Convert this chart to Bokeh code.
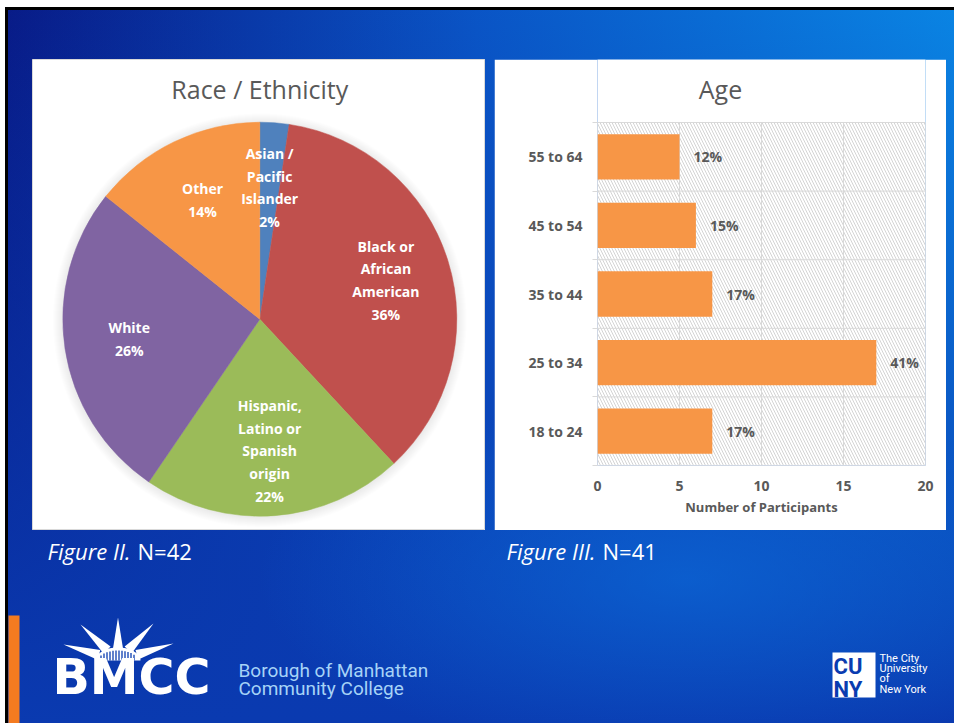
import numpy as np
from bokeh.plotting import figure
from bokeh.models import Range1d, FixedTicker, BoxAnnotation, Spacer, ColumnDataSource
from bokeh.layouts import column, row
from bokeh.core.properties import value
from bokeh.embed import file_html
from bokeh.resources import INLINE

# ---------------- data ----------------
race_names = ["Asian /\nPacific\nIslander", "Black or\nAfrican\nAmerican",
              "Hispanic,\nLatino or\nSpanish\norigin", "White", "Other"]
race_counts = [1, 15, 9, 11, 6]
race_pct = ["2%", "36%", "22%", "26%", "14%"]
race_colors = ["#4F81BD", "#C0504D", "#9BBB59", "#8064A2", "#F79646"]

age_groups = ["18 to 24", "25 to 34", "35 to 44", "45 to 54", "55 to 64"]
age_counts = [7, 17, 7, 6, 5]
age_pct = ["17%", "41%", "17%", "15%", "12%"]
x_ticks = [0, 5, 10, 15, 20]

captions = [("Figure II.", "N=42"), ("Figure III.", "N=41")]

# ---------------- styles ----------------
FONT = "Open Sans"
GRAY = "#595959"
GRID = "#d9d9d9"
BG_BLUE = "#0a3cb0"

# ---------------- pie (Race / Ethnicity) ----------------
R = 197
pie = figure(width=453, height=471, x_range=Range1d(-227.3, 225.7), y_range=Range1d(-211.3, 259.7),
             output_backend="svg", toolbar_location=None, min_border=0,
             x_axis_location=None, y_axis_location=None,
             background_fill_color="white", border_fill_color="white", outline_line_color=GRID)
pie.grid.visible = False

# soft shadow
for k in range(1, 11):
    pie.circle(x=[0], y=[-1], radius=R + k, fill_color="black", fill_alpha=0.009, line_color=None)

frac = np.array(race_counts, dtype=float) / sum(race_counts)
cum = np.concatenate([[0.0], np.cumsum(frac)])
start = np.pi / 2 - 2 * np.pi * cum[:-1]
end = np.pi / 2 - 2 * np.pi * cum[1:]
mid = (start + end) / 2
lab_r = 0.67 * R
src = ColumnDataSource(dict(start=start, end=end, color=race_colors,
                            lx=lab_r * np.cos(mid), ly=lab_r * np.sin(mid),
                            label=[n + "\n" + p for n, p in zip(race_names, race_pct)]))
pie.wedge(x=0, y=0, radius=R, start_angle="start", end_angle="end", direction="clock",
          fill_color="color", line_color="color", line_width=0.5, source=src)
pie.text(x="lx", y="ly", text="label", source=src, text_align="center", text_baseline="middle",
         text_font=value(FONT), text_font_style="bold", text_font_size="14px",
         text_color="white", text_line_height=1.2)
pie.text(x=[0], y=[230.7], text=["Race / Ethnicity"], text_align="center", text_baseline="middle",
         text_font=value(FONT), text_font_size="25px", text_color=GRAY)

# ---------------- bar (Age) ----------------
BL, BR, BT, BB = 103, 21, 63, 65      # plot-area insets inside the panel
BW, BH = 452, 471
ypos = list(range(1, len(age_groups) + 1))
bounds = [y - 0.5 for y in ypos] + [ypos[-1] + 0.5]
px_per_x = (BW - BL - BR) / (x_ticks[-1] - x_ticks[0])
px_per_y = (BH - BT - BB) / (bounds[-1] - bounds[0])
# the frame reaches the panel top so that the chart title can live inside it
bar = figure(width=BW, height=BH, x_range=Range1d(x_ticks[0], x_ticks[-1]),
             y_range=Range1d(bounds[0], bounds[-1] + BT / px_per_y),
             output_backend="svg", toolbar_location=None,
             min_border_left=BL, min_border_right=BR, min_border_top=0, min_border_bottom=BB,
             background_fill_color="white", border_fill_color="white", outline_line_color=None)
bar.outline_line_alpha = 0
bar.grid.visible = False

bar.text(x=[x_ticks[0] + (BW / 2 - BL) / px_per_x], y=[bounds[-1] + 34 / px_per_y], text=["Age"],
         text_align="center", text_baseline="middle",
         text_font=value(FONT), text_font_size="25px", text_color=GRAY)

hatch = BoxAnnotation(left=x_ticks[0], right=x_ticks[-1], bottom=bounds[0], top=bounds[-1],
                      fill_alpha=0, line_color=None, line_alpha=0, hatch_pattern="\\",
                      hatch_color="#d4d4d4", hatch_scale=6, hatch_weight=1, level="image")
bar.add_layout(hatch)

# gridlines / plot-area box
bar.segment(x0=x_ticks, y0=[bounds[0]] * len(x_ticks), x1=x_ticks, y1=[bounds[-1]] * len(x_ticks),
            line_color=GRID, line_width=1)
bar.segment(x0=[x_ticks[0]] * len(bounds), y0=bounds, x1=[x_ticks[-1]] * len(bounds), y1=bounds,
            line_color=GRID, line_width=1)

bar.hbar(y=ypos, right=age_counts, left=0, height=0.66, fill_color="#F79646", line_color=None)
bar.text(x=age_counts, y=ypos, text=age_pct, x_offset=14, text_align="left", text_baseline="middle",
         text_font=value(FONT), text_font_style="bold", text_font_size="14px", text_color=GRAY)

bar.xaxis.ticker = FixedTicker(ticks=x_ticks)
bar.xaxis.axis_label = "Number of Participants"
bar.xaxis.axis_line_color = None
bar.xaxis.major_tick_line_color = None
bar.xaxis.minor_tick_line_color = None
bar.xaxis.major_tick_out = 0
bar.xaxis.major_tick_in = 0
bar.xaxis.major_label_standoff = 15
bar.xaxis.axis_label_standoff = 4

bar.yaxis.ticker = FixedTicker(ticks=ypos, minor_ticks=bounds)
bar.yaxis.major_label_overrides = {y: g for y, g in zip(ypos, age_groups)}
bar.yaxis.major_tick_line_color = None
bar.yaxis.major_tick_out = 0
bar.yaxis.major_tick_in = 0
bar.yaxis.minor_tick_line_color = GRID
bar.yaxis.minor_tick_out = 5
bar.yaxis.minor_tick_in = 0
bar.yaxis.axis_line_color = None
bar.yaxis.major_label_standoff = 10

for ax in (bar.xaxis, bar.yaxis):
    ax.major_label_text_font = FONT
    ax.major_label_text_font_style = "bold"
    ax.major_label_text_font_size = "14px"
    ax.major_label_text_color = GRAY
    ax.axis_label_text_font = FONT
    ax.axis_label_text_font_style = "bold"
    ax.axis_label_text_font_size = "13px"
    ax.axis_label_text_color = GRAY

# ---------------- footer (captions + logos), pixel coordinates below the panels ----------------
FW, FH = 954, 193
foot = figure(width=FW, height=FH, x_range=Range1d(0, FW), y_range=Range1d(FH, 0),
              output_backend="svg", toolbar_location=None, min_border=0,
              x_axis_location=None, y_axis_location=None,
              background_fill_alpha=0, border_fill_alpha=0, outline_line_color=None)
foot.grid.visible = False

cap_x = [(47, 137), (506, 602)]
for (it, nn), (x1, x2) in zip(captions, cap_x):
    foot.text(x=[x1], y=[20], text=[it], text_font=value(FONT), text_font_style="italic",
              text_font_size="22px", text_color="white", text_baseline="alphabetic")
    foot.text(x=[x2], y=[20], text=[nn], text_font=value(FONT),
              text_font_size="22px", text_color="white", text_baseline="alphabetic")

# orange accent bar
foot.quad(left=[8], right=[19], top=[85], bottom=[FH], fill_color="#F47B20", line_color=None)

# BMCC crown rays
c = np.array([117.5, 130.0])
ea, eb = 22.5, 13.0
tips = [(117.5, 87), (80, 94), (63, 114), (153, 93), (173, 113)]
xs, ys = [], []
for tx, ty in tips:
    v = np.array([tx, ty]) - c
    u = v / np.hypot(*v)
    t = 1.0 / np.sqrt((u[0] / ea) ** 2 + (u[1] / eb) ** 2)
    base = c + (t - 1) * u
    perp = np.array([-u[1], u[0]])
    p1 = base + 5 * perp
    p2 = base - 5 * perp
    xs.append([p1[0], tx, p2[0]])
    ys.append([p1[1], ty, p2[1]])
foot.patches(xs=xs, ys=ys, fill_color="white", line_color=None)
th = np.linspace(np.pi, 2 * np.pi, 40)
foot.patch(x=list(c[0] + ea * np.cos(th)), y=list(c[1] + eb * np.sin(th)),
           fill_color="white", line_color=None)
gx = np.arange(c[0] - 17, c[0] + 18, 3.0)
gtop = c[1] - (eb - 3) * np.sqrt(np.clip(1 - ((gx - c[0]) / (ea - 3)) ** 2, 0, 1))
foot.segment(x0=list(gx), y0=[c[1]] * len(gx), x1=list(gx), y1=list(gtop),
             line_color=BG_BLUE, line_width=1.3)
foot.text(x=[52], y=[147], text=["BMCC"], text_font=value("DejaVu Sans"), text_font_style="bold",
          text_font_size="49px", text_color="white", text_baseline="alphabetic")
foot.text(x=[238, 238], y=[140, 158], text=["Borough of Manhattan", "Community College"],
          text_font=value("Roboto"), text_font_size="19px", text_color="#a6d3f7",
          text_baseline="alphabetic")

# CUNY logo
foot.quad(left=[832], right=[875], top=[122], bottom=[167], fill_color="white", line_color=None)
foot.text(x=[833, 833], y=[136, 159], text=["CU", "NY"], text_font=value("Roboto"),
          text_font_style="bold", text_font_size="22px", text_color=BG_BLUE,
          text_baseline="alphabetic")
foot.text(x=[879], y=[121], text=["The City\nUniversity\nof\nNew York"], text_font=value("Roboto"),
          text_font_size="11px", text_color="white", text_baseline="top", text_line_height=0.8)

# ---------------- slide layout ----------------
slide = column(
    Spacer(width=954, height=59),
    row(Spacer(width=32, height=471), column(pie), Spacer(width=9, height=471), column(bar),
        Spacer(width=8, height=471)),
    foot,
    styles={
        "background": ("radial-gradient(ellipse 45% 25% at 72% 80%, rgba(12,110,220,0.6), rgba(12,110,220,0) 100%), "
                       "linear-gradient(to bottom, rgba(10,58,176,0) 0%, rgba(10,58,176,1) 100%), "
                       "linear-gradient(to right, #081a86 0%, #0a55c6 50%, #0a85e4 100%)"),
        "box-shadow": ("inset 0 7px 0 #fff, inset 5px 0 0 #fff, "
                       "inset 0 10px 0 #000, inset 8px 0 0 #000"),
    },
)

open("out.html", "w").write(file_html(slide, INLINE))
